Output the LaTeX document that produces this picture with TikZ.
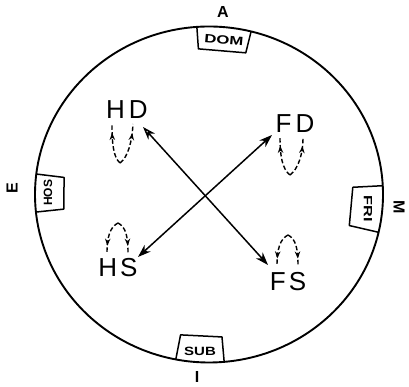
\documentclass[tikz,border=0pt]{standalone}
\usepackage{fontspec}
\setmainfont{Liberation Sans}
\usetikzlibrary{arrows.meta,calc,decorations.markings}
\tikzset{
  rim/.style={line width=1.9pt},
  tabbox/.style={line width=1.5pt, line join=round},
  tablabel/.style={font=\fontsize{12}{12}\selectfont\bfseries, inner sep=0pt},
  sidelabel/.style={font=\fontsize{16}{16}\selectfont\bfseries, inner sep=0pt},
  state/.style={font=\fontsize{26}{26}\selectfont, inner sep=1pt},
  link/.style={line width=1.5pt, {Stealth[length=13pt,width=9pt]}-{Stealth[length=13pt,width=9pt]}},
  selfleg/.style={line width=1.4pt, dash pattern=on 4.5pt off 2.5pt,
    postaction={decorate},
    decoration={markings, mark=at position 0.78 with {\arrow{Stealth[length=7pt,width=5.5pt]}}}},
}
\begin{document}
\begin{tikzpicture}[x=1pt,y=1pt]
\useasboundingbox (0,0) rectangle (409,387);
\coordinate (c) at (209,192.5);
\draw[rim] (c) ellipse [x radius=174pt, y radius=168pt];

% tabs on the rim
\draw[tabbox] ($(c)+(94:174pt and 168pt)$) -- ($(c)+(94:152pt and 146pt)$) -- ($(c)+(76:152pt and 146pt)$) -- ($(c)+(76:174pt and 168pt)$);
\draw[tabbox] ($(c)+(173:174pt and 168pt)$) -- ($(c)+(173:146pt and 140pt)$) -- ($(c)+(186:146pt and 140pt)$) -- ($(c)+(186:174pt and 168pt)$);
\draw[tabbox] ($(c)+(3:174pt and 168pt)$) -- ($(c)+(3:144pt and 138pt)$) -- ($(c)+(-13:144pt and 138pt)$) -- ($(c)+(-13:174pt and 168pt)$);
\draw[tabbox] ($(c)+(259:174pt and 168pt)$) -- ($(c)+(259:149pt and 143pt)$) -- ($(c)+(275:149pt and 143pt)$) -- ($(c)+(275:174pt and 168pt)$);

\node[tablabel, rotate=-5, xscale=1.4] (dom) at (224,347) {DOM};
\node[tablabel, rotate=90] (hos) at (48,194) {HOS};
\node[tablabel, rotate=-90, xscale=1.35] (fri) at (368,178) {FRI};
\node[tablabel, xscale=1.25] (sub) at (200,36) {SUB};

\node[sidelabel] (a) at (223,375) {A};
\node[sidelabel, rotate=90] (e) at (12,199) {E};
\node[sidelabel, rotate=-90] (m) at (399,180) {M};
\node[sidelabel] (i) at (197,10) {I};

% states
\node[state] (hd) at (127,277) {H\hspace{4pt}D};
\node[state] (fd) at (295,263) {F\hspace{4pt}D};
\node[state] (hs) at (118,119) {H\hspace{3pt}S};
\node[state] (fs) at (288,105) {F\hspace{3pt}S};

% crossing links
\coordinate (hdtip) at (143,260);
\coordinate (fstip) at (268,122);
\coordinate (fdtip) at (272,252);
\coordinate (hstip) at (138,130);
\draw[line width=1.5pt, {Stealth[open,length=13pt,width=9pt]}-{Stealth[length=13pt,width=9pt]}] (hdtip) -- (fstip);
\draw[link] (fdtip) -- (hstip);

% self loops
\coordinate (hdb) at (120,224);
\draw[selfleg] (hdb) .. controls (113,230) and (112,245) .. (112,263);
\draw[selfleg] (hdb) .. controls (128,230) and (132,245) .. (133,263);
\coordinate (fdb) at (290,212);
\draw[selfleg] (fdb) .. controls (282,218) and (280,232) .. (280,250);
\draw[selfleg] (fdb) .. controls (298,218) and (303,232) .. (303,250);
\coordinate (hst) at (118,164);
\draw[selfleg] (hst) .. controls (110,160) and (107,150) .. (107,134);
\draw[selfleg] (hst) .. controls (126,160) and (128,150) .. (128,134);
\coordinate (fst) at (288,152);
\draw[selfleg] (fst) .. controls (280,148) and (277,138) .. (277,121);
\draw[selfleg] (fst) .. controls (296,148) and (298,138) .. (298,121);
\end{tikzpicture}
\end{document}
